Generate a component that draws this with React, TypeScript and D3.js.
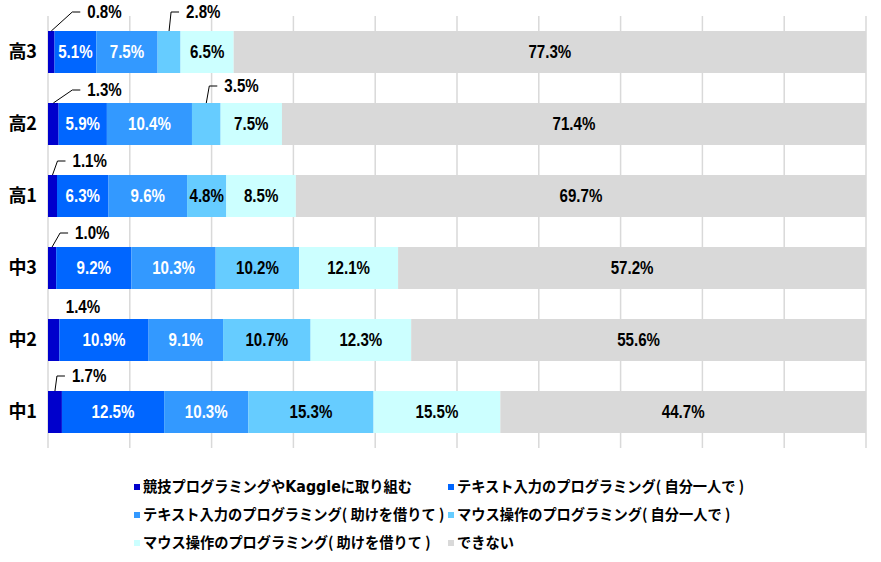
import * as d3 from "d3";
import { useEffect, useRef } from "react";

const grades = ["高3", "高2", "高1", "中3", "中2", "中1"];
const seriesNames = [
  "競技プログラミングやKaggleに取り組む",
  "テキスト入力のプログラミング( 自分一人で )",
  "テキスト入力のプログラミング( 助けを借りて )",
  "マウス操作のプログラミング( 自分一人で )",
  "マウス操作のプログラミング( 助けを借りて )",
  "できない",
];
const seriesColors = ["#0000CC", "#0066FF", "#3399FF", "#66CCFF", "#CCFFFF", "#D9D9D9"];
const labelColors = ["#fff", "#fff", "#fff", "#000", "#000", "#000"];

// values per grade, in series order
const kyogi = [0.8, 1.3, 1.1, 1.0, 1.4, 1.7];
const textSelf = [5.1, 5.9, 6.3, 9.2, 10.9, 12.5];
const textHelp = [7.5, 10.4, 9.6, 10.3, 9.1, 10.3];
const mouseSelf = [2.8, 3.5, 4.8, 10.2, 10.7, 15.3];
const mouseHelp = [6.5, 7.5, 8.5, 12.1, 12.3, 15.5];
const cannot = [77.3, 71.4, 69.7, 57.2, 55.6, 44.7];

const xTicks = [0, 10, 20, 30, 40, 50, 60, 70, 80, 90, 100];

// labels placed outside the bar: [grade index, series index, dx from segment middle, dy from bar top, leader line]
const callouts = [
  [0, 0, 36, -19, true],
  [0, 3, 17, -19, true],
  [1, 0, 34, -13, true],
  [1, 3, 18, -17, true],
  [2, 0, 20, -14, true],
  [3, 0, 23, -14, true],
  [4, 0, 12, -12, false],
  [5, 0, 17, -15, true],
];

const numFont = "'Liberation Sans', Arial, sans-serif";
const jpFont = "'Noto Sans CJK JP', sans-serif";

const App = () => {
  const ref = useRef(null);

  useEffect(() => {
    const svg = d3.select(ref.current);
    svg.selectAll("*").remove();

    const series = [kyogi, textSelf, textHelp, mouseSelf, mouseHelp, cannot];
    const rows = grades.map((g, i) => {
      const r: any = { grade: g };
      series.forEach((s, j) => (r["s" + j] = s[i]));
      return r;
    });
    const keys = series.map((_, j) => "s" + j);
    const stacked = d3.stack().keys(keys)(rows);

    const x = d3.scaleLinear().domain([0, 100]).range([48, 866]);
    const y = d3.scaleBand()
      .domain(grades)
      .range([16, 448])
      .paddingInner(30 / 72)
      .paddingOuter(15 / 72);

    // narrow-looking number label
    const numLabel = (g, tx, ty, txt, fill, anchor) =>
      g.append("text")
        .attr("transform", `translate(${tx},${ty}) scale(0.84,1)`)
        .attr("dy", "0.36em")
        .attr("text-anchor", anchor)
        .attr("fill", fill)
        .attr("font-family", numFont)
        .attr("font-weight", "bold")
        .attr("font-size", 18)
        .text(txt);

    // gridlines
    svg.append("g")
      .selectAll("line")
      .data(xTicks)
      .join("line")
      .attr("x1", d => x(d))
      .attr("x2", d => x(d))
      .attr("y1", 16)
      .attr("y2", 448)
      .attr("stroke", "#D9D9D9")
      .attr("stroke-width", 1.5);

    const isCallout = (gi, si) => callouts.some(c => c[0] === gi && c[1] === si);

    stacked.forEach((layer, si) => {
      const g = svg.append("g");
      g.selectAll("rect")
        .data(layer)
        .join("rect")
        .attr("x", d => x(d[0]))
        .attr("width", d => x(d[1]) - x(d[0]))
        .attr("y", (d, i) => y(grades[i]))
        .attr("height", y.bandwidth())
        .attr("fill", seriesColors[si]);

      layer.forEach((d, i) => {
        if (isCallout(i, si)) return;
        numLabel(
          g,
          (x(d[0]) + x(d[1])) / 2,
          y(grades[i]) + y.bandwidth() / 2,
          series[si][i].toFixed(1) + "%",
          labelColors[si],
          "middle"
        );
      });
    });

    // callout labels
    const cg = svg.append("g");
    callouts.forEach(([gi, si, dx, dy, line]) => {
      const seg = stacked[si as number][gi as number];
      const mid = (x(seg[0]) + x(seg[1])) / 2;
      const top = y(grades[gi as number]);
      const tx = mid + (dx as number);
      const ty = top + (dy as number);
      if (line) {
        cg.append("path")
          .attr("d", d3.line()([[mid, top], [tx - 15, ty], [tx - 7, ty]]))
          .attr("fill", "none")
          .attr("stroke", "#000")
          .attr("stroke-width", 1);
      }
      numLabel(cg, tx, ty, series[si as number][gi as number].toFixed(1) + "%", "#000", "start");
    });

    // category labels
    svg.append("g")
      .selectAll("text")
      .data(grades)
      .join("text")
      .attr("x", 37)
      .attr("y", d => y(d) + y.bandwidth() / 2)
      .attr("dy", "0.36em")
      .attr("text-anchor", "end")
      .attr("font-family", jpFont)
      .attr("font-weight", "bold")
      .attr("font-size", 18)
      .text(d => d);

    // legend, two columns
    const legendPos = [[134, 487], [448, 487], [134, 515], [448, 515], [134, 543], [448, 543]];
    const lg = svg.append("g");
    seriesNames.forEach((name, i) => {
      const [lx, ly] = legendPos[i];
      lg.append("rect")
        .attr("x", lx)
        .attr("y", ly - 3)
        .attr("width", 6)
        .attr("height", 6)
        .attr("fill", seriesColors[i]);
      const t = lg.append("text")
        .attr("transform", `translate(${lx + 9},${ly}) scale(0.95,1)`)
        .attr("dy", "0.36em")
        .attr("font-family", jpFont)
        .attr("font-weight", "bold")
        .attr("font-size", 15);
      // latin part set in a wider face, as in the original
      name.split(/(Kaggle)/).forEach(part => {
        if (!part) return;
        const sp = t.append("tspan").text(part);
        if (part === "Kaggle") sp.attr("font-family", "'DejaVu Sans', sans-serif");
      });
    });
  }, []);

  return (
    <svg
      ref={ref}
      width={881}
      height={562}
      style={{ position: "absolute", left: 0, top: 0, background: "#fff" }}
    />
  );
};

export default App;
